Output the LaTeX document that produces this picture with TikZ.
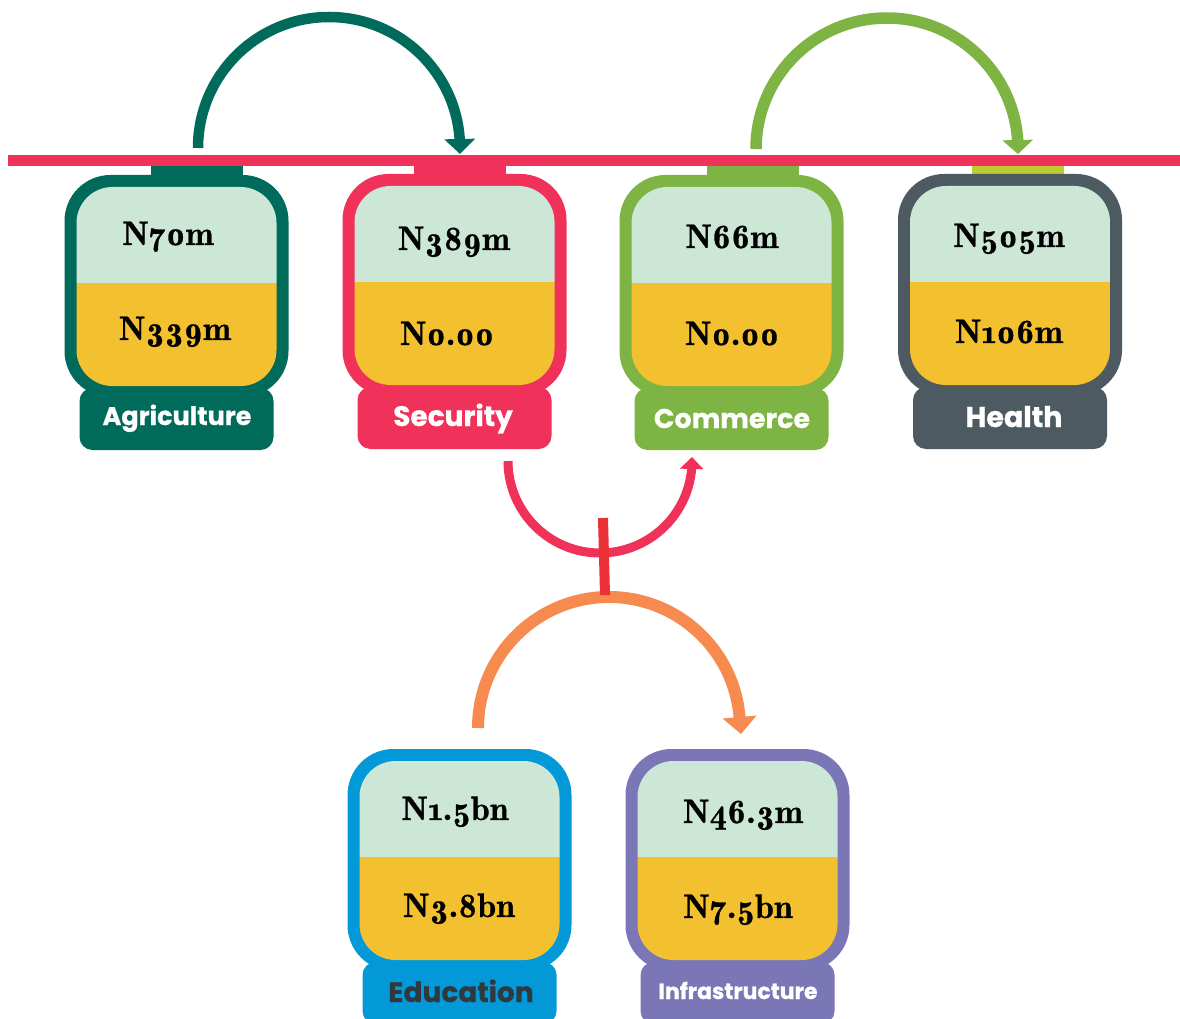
\documentclass[tikz,border=0pt]{standalone}
\usepackage{fontspec}
\setmainfont{Latin Modern Roman}[Numbers=OldStyle]
\newfontfamily\numfont{Latin Modern Roman Demi}[Numbers=OldStyle, FakeBold=0.9]
\newfontfamily\labfont{Poppins}[FakeBold=0.7]
\usetikzlibrary{arrows.meta}
\definecolor{dkgreen}{HTML}{006B5A}
\definecolor{pinkred}{HTML}{F03159}
\definecolor{ltgreen}{HTML}{7DB443}
\definecolor{slate}{HTML}{4D5A62}
\definecolor{skyblue}{HTML}{0398D8}
\definecolor{lavender}{HTML}{7B77B7}
\definecolor{orangec}{HTML}{F68A4F}
\definecolor{mint}{HTML}{CCE7D6}
\definecolor{jyellow}{HTML}{F3C12F}
\definecolor{tabyg}{HTML}{BECC33}
\definecolor{redbar}{HTML}{EB3038}
\definecolor{edtext}{HTML}{30393E}
\tikzset{
  num/.style={anchor=base, inner sep=0pt, text=black, font=\numfont\fontsize{34}{34}\selectfont},
  lab/.style={anchor=base, inner sep=0pt, text=white, font=\labfont\bfseries\fontsize{#1}{#1}\selectfont},
  lab/.default=26,
  flow/.style={line width=11pt},
}
% #1 centre x, #2 top y, #3 colour, #4 tab style, #5 tab centre x
\newcommand\jarbody[5]{%
  \path[#4] (#5-46,-#2+10) rectangle (#5+46,-#2-1);
  \fill[#3,rounded corners=46pt] (#1-112,-#2) rectangle (#1+112,-#2-222);
  \fill[#3,rounded corners=13pt] (#1-97,-#2-213) rectangle (#1+97,-#2-275);
  \begin{scope}
    \clip[rounded corners=36pt] (#1-100,-#2-12) rectangle (#1+100,-#2-211);
    \fill[mint] (#1-101,-#2-11) rectangle (#1+101,-#2-108);
    \fill[jyellow] (#1-101,-#2-108) rectangle (#1+101,-#2-212);
  \end{scope}
}
\begin{document}
\begin{tikzpicture}[x=1pt,y=1pt]
\fill[white] (0,0) rectangle (1180,-1019);
\useasboundingbox (0,0) rectangle (1180,-1019);

% jars
\jarbody{176.5}{175}{dkgreen}{fill=dkgreen}{196.5}
\jarbody{454.5}{174}{pinkred}{fill=pinkred}{460}
\jarbody{731.5}{175}{ltgreen}{fill=ltgreen}{752.5}
\jarbody{1010}{174}{slate}{fill=tabyg}{1017.5}
\jarbody{459.5}{749}{skyblue}{}{459.5}
\jarbody{737.5}{749}{lavender}{}{737.5}

% rail
\coordinate (railL) at (8,-160.4);
\coordinate (railR) at (1180,-160.4);
\draw[pinkred, line width=10.5pt] (railL) -- (railR);

% numbers
\node[num] (agA) at (168,-245) {N70m};
\node[num] (agB) at (175,-340) {N339m};
\node[num] (seA) at (454,-250) {N389m};
\node[num] (seB) at (447,-345) {N0.00};
\node[num] (coA) at (732,-248) {N66m};
\node[num] (coB) at (732,-345) {N0.00};
\node[num] (heA) at (1009,-247) {N505m};
\node[num] (heB) at (1009,-343) {N106m};
\node[num] (edA) at (455,-820) {N1.5bn};
\node[num] (edB) at (459,-917) {N3.8bn};
\node[num] (inA) at (743,-823) {N46.3m};
\node[num] (inB) at (738,-918) {N7.5bn};

% labels
\node[lab=25.5] (agL) at (177,-425) {Agriculture};
\node[lab=28] (seL) at (453,-426) {Security};
\node[lab=27] (coL) at (732,-428) {Commerce};
\node[lab=28.5] (heL) at (1014,-427) {Health};
\node[lab=28, text=edtext] (edL) at (461,-1002) {Education};
\node[lab=22] (inL) at (738,-999) {Infrastructure};

% connectors
\coordinate (agOut) at (198,-148);
\coordinate (seIn) at (460,-154);
\draw[flow, dkgreen, line width=10.5pt, -{Triangle[length=15pt,width=30pt]}]
  (agOut) arc[start angle=180, end angle=3.9, radius=131pt] -- (seIn);

\coordinate (coOut) at (756,-149);
\coordinate (heIn) at (1018,-154);
\draw[flow, ltgreen, line width=11.5pt, -{Triangle[length=14pt,width=30pt]}]
  (coOut) arc[start angle=180, end angle=4, radius=131pt] -- (heIn);

\coordinate (seOut) at (508,-461);
\coordinate (coIn) at (692,-457);
\draw[flow, pinkred, line width=9pt, -{Triangle[length=12pt,width=23pt]}]
  (seOut) arc[start angle=180, end angle=355, radius=92pt] -- (coIn);

\coordinate (edOut) at (478,-728);
\coordinate (inIn) at (741,-734);
\draw[flow, orangec, line width=12pt, -{Triangle[length=17pt,width=33pt]}]
  (edOut) arc[start angle=180, end angle=4.8, radius=131pt] -- (inIn);

\coordinate (barT) at (603,-518);
\coordinate (barB) at (605,-595);
\draw[redbar, line width=10pt] (barT) -- (barB);
\end{tikzpicture}
\end{document}
